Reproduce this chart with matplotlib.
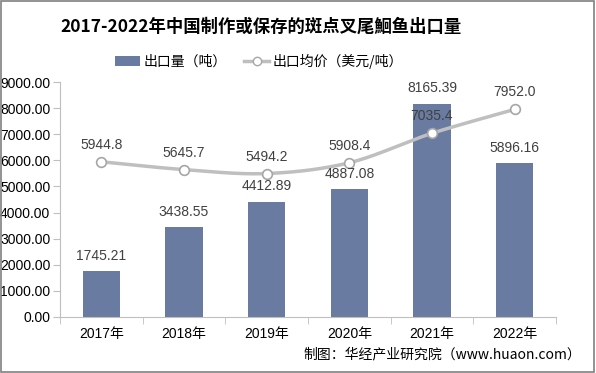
import numpy as np
import matplotlib
matplotlib.use("Agg")
import matplotlib.pyplot as plt
from matplotlib.lines import Line2D
from matplotlib.patches import Patch, Rectangle

plt.rcParams['font.family'] = ['Liberation Sans', 'Noto Sans CJK SC', 'DejaVu Sans']

years = ["2017年", "2018年", "2019年", "2020年", "2021年", "2022年"]
export_qty = [1745.21, 3438.55, 4412.89, 4887.08, 8165.39, 5896.16]
avg_price = [5944.8, 5645.7, 5494.2, 5908.4, 7035.4, 7952.0]
qty_labels = ["1745.21", "3438.55", "4412.89", "4887.08", "8165.39", "5896.16"]
price_labels = ["5944.8", "5645.7", "5494.2", "5908.4", "7035.4", "7952.0"]
yticks = [0, 1000, 2000, 3000, 4000, 5000, 6000, 7000, 8000, 9000]

bar_color = "#6a7ba2"
line_color = "#bfbfbf"
text_color = "#404040"

fig = plt.figure(figsize=(5.96, 3.73), dpi=100)
ax = fig.add_axes([60/596, 1-317/373, (556-60)/596, (317-82)/373])

x = np.arange(len(years))
ax.bar(x, export_qty, width=0.45, color=bar_color, zorder=2)

# Smooth (Catmull-Rom) curve through the price points
def catmull(xs, ys, n=30):
    px = np.concatenate([[2*xs[0]-xs[1]], xs, [2*xs[-1]-xs[-2]]])
    py = np.concatenate([[2*ys[0]-ys[1]], ys, [2*ys[-1]-ys[-2]]])
    ox, oy = [], []
    for i in range(1, len(px)-2):
        t = np.linspace(0, 1, n)
        for arr, out in ((px, ox), (py, oy)):
            p0, p1, p2, p3 = arr[i-1], arr[i], arr[i+1], arr[i+2]
            out.extend(0.5*((2*p1) + (-p0+p2)*t + (2*p0-5*p1+4*p2-p3)*t**2 + (-p0+3*p1-3*p2+p3)*t**3))
    return np.array(ox), np.array(oy)

sx, sy = catmull(x.astype(float), np.array(avg_price, dtype=float))
ax.plot(sx, sy, color=line_color, lw=2.5, zorder=3, solid_capstyle='round')
ax.plot(x, avg_price, ls='none', marker='o', ms=7, mfc='white', mec='#a6a6a6', mew=1.2, zorder=4)

for xi, v, lab in zip(x, export_qty, qty_labels):
    ax.text(xi, v + 320, lab, ha='center', va='bottom', fontsize=10, color=text_color, zorder=5)
for xi, v, lab in zip(x, avg_price, price_labels):
    ax.text(xi, v + 380, lab, ha='center', va='bottom', fontsize=10, color=text_color, zorder=5)

ax.set_xlim(-0.5, len(years)-0.5)
ax.set_ylim(0, 9000)
ax.set_yticks(yticks)
ax.set_yticklabels([f"{t:.2f}" for t in yticks], fontsize=10, color="#000000")
ax.set_xticks(x)
ax.set_xticklabels(years, fontsize=10, color="#000000")
ax.set_xticks(np.arange(-0.5, len(years), 1.0), minor=True)
ax.tick_params(axis='x', which='major', length=0, pad=7)
ax.tick_params(axis='x', which='minor', length=5, color='#bfbfbf', direction='out')
ax.tick_params(axis='y', length=5, color='#bfbfbf', direction='out', pad=2)
for s in ['top', 'right']:
    ax.spines[s].set_visible(False)
ax.spines['left'].set_color('#bfbfbf')
ax.spines['bottom'].set_color('#bfbfbf')

fig.text(261/596, 1-27/373, "2017-2022年中国制作或保存的斑点叉尾鮰鱼出口量", ha='center', va='center',
         fontsize=12.5, fontweight='bold', family=['Noto Sans CJK SC', 'DejaVu Sans'], color='#000000')

handles = [Patch(facecolor=bar_color, edgecolor='none'),
           Line2D([0], [0], color=line_color, lw=2.5, marker='o', ms=6, mfc='white', mec='#a6a6a6')]
fig.legend(handles, ["出口量（吨）", "出口均价（美元/吨）"], loc='center', bbox_to_anchor=(259/596, 1-61/373),
           ncol=2, frameon=False, handlelength=1.8, columnspacing=1.3, handletextpad=0.2,
           prop={'family': ['Noto Sans CJK SC', 'DejaVu Sans'], 'size': 10})

fig.text(0.975, 1-354/373, "制图：华经产业研究院（www.huaon.com）", ha='right', va='center', fontsize=10,
         family=['Noto Sans CJK SC', 'DejaVu Sans'], color='#000000')

fig.add_artist(Rectangle((0.002, 0.003), 0.995, 0.994, transform=fig.transFigure, fill=False,
                         edgecolor='#808080', lw=1.2))

fig.savefig("out.png", dpi=100)
